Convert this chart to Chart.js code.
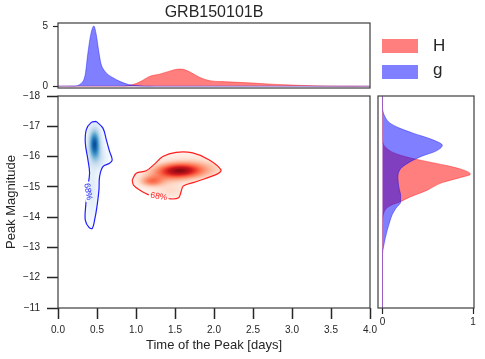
<!DOCTYPE html>
<html>
<head>
<meta charset="utf-8">
<script src="https://cdn.jsdelivr.net/npm/chart.js@4.4.0/dist/chart.umd.min.js"></script>
<style>
  body { margin: 0; background: #fff; }
  #wrap { position: relative; width: 485px; height: 359px; font-family: "Liberation Sans", Arial, sans-serif; }
  #wrap canvas { position: absolute; left: 0; top: 0; }
  .key { position: absolute; left: 382px; width: 36px; height: 14px; }
  .keytxt { position: absolute; left: 433px; font-size: 17px; line-height: 20px; color: #262626; }
</style>
</head>
<body>
<div id="wrap">
  <canvas id="topChart" width="485" height="359"></canvas>
  <canvas id="mainChart" width="485" height="359"></canvas>
  <canvas id="sideChart" width="485" height="359"></canvas>
  <div class="key" style="top:39px; background:rgba(255,0,0,0.5)"></div>
  <div class="keytxt" style="top:36px">H</div>
  <div class="key" style="top:65px; background:rgba(0,0,255,0.5)"></div>
  <div class="keytxt" style="top:60px">g</div>
</div>
<script>
// time of peak marginal (days -> density)
const gTime = [0, 0.2, 0.3, 0.35, 0.38, 0.42, 0.46, 0.49, 0.52, 0.55, 0.6, 0.7, 0.8, 0.9, 1.0, 1.1, 1.25, 4.0];
const gTimeDens = [0, 0.02, 0.25, 1.0, 2.6, 4.3, 5.0, 4.3, 3.0, 1.9, 1.25, 0.72, 0.38, 0.15, 0.05, 0.01, 0, 0];
const hTime = [0, 0.8, 0.9, 1.0, 1.05, 1.18, 1.3, 1.43, 1.55, 1.62, 1.7, 1.82, 1.95, 2.1, 2.25, 2.5, 2.7, 2.9, 3.1, 3.3, 3.6, 4.0];
const hTimeDens = [0, 0, 0.05, 0.22, 0.36, 0.83, 1.0, 1.25, 1.42, 1.38, 1.15, 0.72, 0.45, 0.38, 0.34, 0.26, 0.18, 0.12, 0.07, 0.03, 0.01, 0];

// peak magnitude marginal (mag -> density)
const gMag = [-18, -17.6, -17.44, -17.3, -17.11, -16.95, -16.78, -16.56, -16.37, -16.18, -16.02, -15.8, -15.6, -15.3, -15.0, -14.7, -14.5, -14.3, -14.1, -13.9, -13.6, -13.3, -13.0, -12.8, -11];
const gMagDens = [0, 0, 0.01, 0.03, 0.08, 0.18, 0.33, 0.55, 0.66, 0.59, 0.44, 0.29, 0.2, 0.17, 0.18, 0.2, 0.2, 0.15, 0.11, 0.085, 0.055, 0.03, 0.01, 0, 0];
const hMag = [-18, -16.6, -16.4, -16.29, -16.13, -15.96, -15.8, -15.69, -15.55, -15.42, -15.3, -15.14, -15.0, -14.9, -14.8, -14.66, -14.5, -14.4, -14.28, -14.1, -13.8, -11];
const hMagDens = [0, 0, 0.01, 0.04, 0.12, 0.3, 0.55, 0.73, 0.9, 0.97, 0.85, 0.66, 0.56, 0.5, 0.42, 0.3, 0.19, 0.1, 0.04, 0.01, 0, 0];

// 68% contours [days, mag]
const gContour = [[0.49,-17.16],[0.576,-16.94],[0.619,-16.56],[0.661,-16.17],[0.695,-15.89],[0.661,-15.78],[0.576,-15.67],[0.533,-15.34],[0.525,-14.9],[0.499,-14.34],[0.469,-13.9],[0.44,-13.63],[0.397,-13.66],[0.35,-13.9],[0.354,-14.34],[0.375,-14.9],[0.405,-15.45],[0.384,-15.89],[0.35,-16.45],[0.363,-16.89],[0.427,-17.13],[0.49,-17.16]];
const hContour = [[0.951,-15.23],[1.003,-15.45],[1.13,-15.53],[1.237,-15.75],[1.343,-16.0],[1.514,-16.14],[1.726,-16.12],[1.94,-15.89],[2.09,-15.56],[2.046,-15.43],[1.77,-15.17],[1.607,-15.03],[1.578,-14.84],[1.547,-14.64],[1.45,-14.6],[1.343,-14.66],[1.173,-14.73],[1.045,-14.9],[0.968,-15.06],[0.951,-15.23]];

// density peaks [days, mag, spread days, spread mag, weight]
const gPeaks = [[0.468,-16.42,0.05,0.33,1.0],[0.52,-15.95,0.07,0.25,0.2],[0.44,-14.9,0.05,0.6,0.14]];
const hPeaks = [[1.56,-15.54,0.19,0.16,1.0],[1.2,-15.18,0.1,0.12,0.55],[1.75,-15.6,0.3,0.25,0.35],[1.35,-15.35,0.2,0.2,0.3],[1.45,-14.85,0.14,0.16,0.2]];

// contour label spots [days, mag]
const gTag = [0.384, -14.84];
const hTag = [1.292, -14.68];

const BLUES = ['#f7fbff','#deebf7','#c6dbef','#9ecae1','#6baed6','#4292c6','#2171b5','#08519c','#08306b'];
const REDS = ['#fff5f0','#fee0d2','#fcbba1','#fc9272','#fb6a4a','#ef3b2c','#cb181d','#a50f15','#67000d'];

Chart.defaults.font.family = "'Liberation Sans', Arial, sans-serif";
Chart.defaults.color = '#262626';

const pts = (xs, ys) => xs.map((v, i) => ({x: v, y: ys[i]}));
const minus = v => (v < 0 ? '\u2212' : '') + Math.abs(v);

function hex(c) { return [1, 3, 5].map(i => parseInt(c.slice(i, i + 2), 16)); }
function cmap(stops, t) {
  t = Math.max(0, Math.min(1, t));
  const f = t * (stops.length - 1);
  const i = Math.min(Math.floor(f), stops.length - 2);
  const u = f - i, a = hex(stops[i]), b = hex(stops[i + 1]);
  return [0, 1, 2].map(k => a[k] + (b[k] - a[k]) * u);
}

const frame = {
  id: 'frame',
  afterDatasetsDraw(chart) {
    const {ctx, chartArea: a} = chart;
    ctx.save();
    ctx.strokeStyle = '#3c3c3c';
    ctx.lineWidth = 1.2;
    ctx.strokeRect(a.left, a.top, a.right - a.left, a.bottom - a.top);
    ctx.restore();
  }
};

const density = {
  id: 'density',
  beforeDatasetsDraw(chart) {
    const {ctx, chartArea: a, scales: {x, y}} = chart;
    const w = Math.round(a.right - a.left), h = Math.round(a.bottom - a.top);
    chart.data.datasets.forEach((ds, i) => {
      if (!ds.peaks) return;
      const off = document.createElement('canvas');
      off.width = w; off.height = h;
      const octx = off.getContext('2d');
      const img = octx.createImageData(w, h);
      const vals = new Float32Array(w * h);
      let max = 0;
      for (let j = 0; j < h; j++) {
        const yv = y.getValueForPixel(a.top + j + 0.5);
        for (let k = 0; k < w; k++) {
          const xv = x.getValueForPixel(a.left + k + 0.5);
          let d = 0;
          for (const [cx, cy, sx, sy, wt] of ds.peaks) {
            const dx = (xv - cx) / sx, dy = (yv - cy) / sy;
            d += wt * Math.exp(-0.5 * (dx * dx + dy * dy));
          }
          vals[j * w + k] = d;
          if (d > max) max = d;
        }
      }
      for (let p = 0; p < w * h; p++) {
        const c = cmap(ds.cmap, ds.tmax * vals[p] / max);
        img.data[p * 4] = c[0]; img.data[p * 4 + 1] = c[1]; img.data[p * 4 + 2] = c[2]; img.data[p * 4 + 3] = 255;
      }
      octx.putImageData(img, 0, 0);
      const line = chart.getDatasetMeta(i).dataset;
      ctx.save();
      line.updateControlPoints(a, 'x');
      ctx.beginPath();
      line.path(ctx);
      ctx.closePath();
      ctx.clip();
      ctx.drawImage(off, a.left, a.top);
      ctx.restore();
    });
  },
  beforeDatasetDraw(chart, args) {
    const ds = chart.data.datasets[args.index];
    if (!ds.tag) return;
    const {ctx, scales: {x, y}} = chart;
    const cx = x.getPixelForValue(ds.tag[0]), cy = y.getPixelForValue(ds.tag[1]);
    const th = ds.tagAngle * Math.PI / 180, hw = 10, hh = 4;
    const c = Math.cos(th), s = Math.sin(th);
    const corner = (u, v) => [cx + u * c - v * s, cy + u * s + v * c];
    ctx.save();
    ctx.beginPath();
    ctx.rect(0, 0, chart.width, chart.height);
    const q = [corner(-hw, -hh), corner(hw, -hh), corner(hw, hh), corner(-hw, hh)];
    ctx.moveTo(q[0][0], q[0][1]);
    q.slice(1).forEach(p => ctx.lineTo(p[0], p[1]));
    ctx.closePath();
    ctx.clip('evenodd');
  },
  afterDatasetDraw(chart, args) {
    const ds = chart.data.datasets[args.index];
    if (!ds.tag) return;
    const {ctx, scales: {x, y}} = chart;
    ctx.restore();
    ctx.save();
    ctx.translate(x.getPixelForValue(ds.tag[0]), y.getPixelForValue(ds.tag[1]));
    ctx.rotate(ds.tagAngle * Math.PI / 180);
    ctx.fillStyle = ds.borderColor;
    ctx.font = "8.5px 'Liberation Sans', Arial, sans-serif";
    ctx.textAlign = 'center';
    ctx.textBaseline = 'middle';
    ctx.fillText('68%', 0, 0);
    ctx.restore();
  }
};

// top marginal: time of the peak
new Chart(document.getElementById('topChart'), {
  type: 'line',
  data: {
    datasets: [
      { label: 'g', data: pts(gTime, gTimeDens), fill: 'origin', backgroundColor: 'rgba(0,0,255,0.5)', borderColor: 'rgba(0,0,255,0.4)', borderWidth: 1, pointRadius: 0, cubicInterpolationMode: 'monotone' },
      { label: 'H', data: pts(hTime, hTimeDens), fill: 'origin', backgroundColor: 'rgba(255,0,0,0.5)', borderColor: 'rgba(255,0,0,0.4)', borderWidth: 1, pointRadius: 0, cubicInterpolationMode: 'monotone' }
    ]
  },
  options: {
    responsive: false,
    animation: false,
    layout: { padding: { left: 0, top: 0, right: 115, bottom: 271 } },
    plugins: {
      legend: { display: false },
      tooltip: { enabled: false },
      title: { display: true, text: 'GRB150101B', fullSize: false, font: { size: 16, weight: 'normal', lineHeight: '19px' }, color: '#262626', padding: { top: 3, bottom: 1 } }
    },
    scales: {
      x: { type: 'linear', min: 0, max: 4, display: false },
      y: {
        type: 'linear', min: -0.15, max: 5.25,
        afterBuildTicks: s => { s.ticks = [{value: 0}, {value: 5}]; },
        ticks: { font: { size: 10 }, color: '#262626', padding: 5 },
        grid: { drawOnChartArea: false, tickLength: 5, tickColor: '#262626', tickWidth: 1.2 },
        border: { display: false },
        afterFit: s => { s.width = 58; }
      }
    }
  },
  plugins: [frame]
});

// joint panel
new Chart(document.getElementById('mainChart'), {
  type: 'scatter',
  data: {
    datasets: [
      { label: 'g', data: gContour.map(([x, y]) => ({x, y})), showLine: true, borderColor: 'rgb(30,30,255)', borderWidth: 1.2, pointRadius: 0, tension: 0.35, peaks: gPeaks, cmap: BLUES, tmax: 0.88, tag: gTag, tagAngle: 80 },
      { label: 'H', data: hContour.map(([x, y]) => ({x, y})), showLine: true, borderColor: 'rgb(255,30,30)', borderWidth: 1.2, pointRadius: 0, tension: 0.35, peaks: hPeaks, cmap: REDS, tmax: 0.93, tag: hTag, tagAngle: 10 }
    ]
  },
  options: {
    responsive: false,
    animation: false,
    layout: { padding: { left: 0, top: 96, right: 115, bottom: 0 } },
    plugins: { legend: { display: false }, tooltip: { enabled: false } },
    scales: {
      x: {
        type: 'linear', min: 0, max: 4,
        ticks: { stepSize: 0.5, callback: v => v.toFixed(1), font: { size: 10 }, color: '#262626', padding: 5 },
        grid: { drawOnChartArea: false, tickLength: 11, tickColor: '#262626', tickWidth: 1.5 },
        border: { display: false },
        title: { display: true, text: 'Time of the Peak [days]', font: { size: 13 }, color: '#262626', padding: { top: 0, bottom: 6 } },
        afterFit: s => { s.height = 51; }
      },
      y: {
        type: 'linear', min: -18, max: -11, reverse: true,
        ticks: { stepSize: 1, callback: v => minus(v), font: { size: 10 }, color: '#262626', padding: 7 },
        grid: { drawOnChartArea: false, tickLength: 11, tickColor: '#262626', tickWidth: 1.5 },
        border: { display: false },
        title: { display: true, text: 'Peak Magnitude', font: { size: 13 }, color: '#262626', padding: { top: 4, bottom: 0 } },
        afterFit: s => { s.width = 58; }
      }
    }
  },
  plugins: [density, frame]
});

// side marginal: peak magnitude
new Chart(document.getElementById('sideChart'), {
  type: 'line',
  data: {
    datasets: [
      { label: 'g', data: pts(gMagDens, gMag), fill: 'origin', backgroundColor: 'rgba(0,0,255,0.5)', borderColor: 'rgba(0,0,255,0.4)', borderWidth: 1, pointRadius: 0, cubicInterpolationMode: 'monotone' },
      { label: 'H', data: pts(hMagDens, hMag), fill: 'origin', backgroundColor: 'rgba(255,0,0,0.5)', borderColor: 'rgba(255,0,0,0.4)', borderWidth: 1, pointRadius: 0, cubicInterpolationMode: 'monotone' }
    ]
  },
  options: {
    responsive: false,
    animation: false,
    indexAxis: 'y',
    layout: { padding: { left: 378, top: 96, right: 11, bottom: 0 } },
    plugins: { legend: { display: false }, tooltip: { enabled: false } },
    scales: {
      x: {
        type: 'linear', min: -0.05, max: 1.01,
        afterBuildTicks: s => { s.ticks = [{value: 0}, {value: 1}]; },
        ticks: { font: { size: 10 }, color: '#262626', padding: 2 },
        grid: { drawOnChartArea: false, tickLength: 6, tickColor: '#262626', tickWidth: 1.2 },
        border: { display: false },
        afterFit: s => { s.height = 51; }
      },
      y: { type: 'linear', min: -18, max: -11, reverse: true, display: false }
    }
  },
  plugins: [frame]
});
</script>
</body>
</html>
